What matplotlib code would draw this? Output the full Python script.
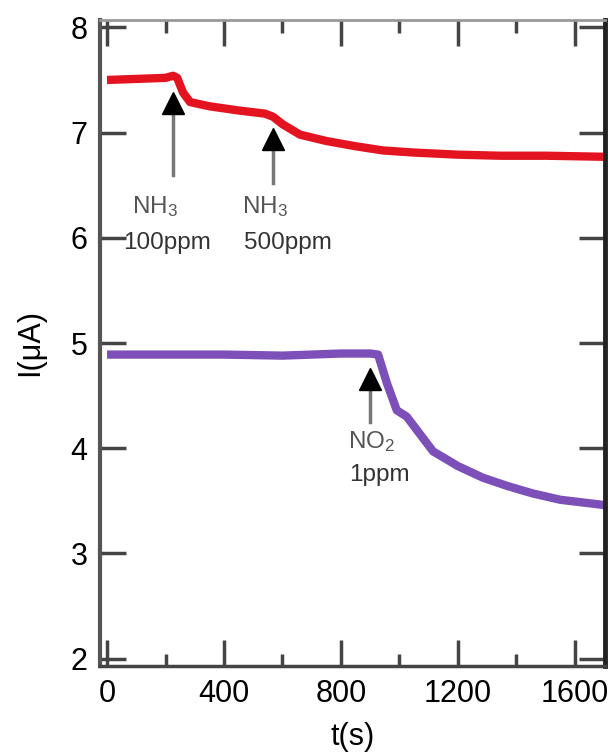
import numpy as np
import matplotlib.pyplot as plt
from matplotlib.ticker import MultipleLocator

plt.rcParams['font.family'] = ['Liberation Sans', 'DejaVu Sans']
plt.rcParams['mathtext.default'] = 'regular'

# NH3 response (red)
t_nh3 = [0, 100, 200, 226, 240, 260, 284, 350, 450, 540, 568, 600, 660,
         750, 850, 944, 1050, 1200, 1344, 1500, 1700]
i_nh3 = [7.50, 7.51, 7.52, 7.54, 7.52, 7.38, 7.29, 7.25, 7.21, 7.18, 7.15,
         7.08, 6.98, 6.92, 6.87, 6.83, 6.81, 6.79, 6.78, 6.78, 6.77]

# NO2 response (purple)
t_no2 = [0, 200, 400, 600, 700, 800, 900, 927, 957, 991, 1025, 1115, 1200,
         1285, 1370, 1456, 1550, 1700]
i_no2 = [4.89, 4.89, 4.89, 4.88, 4.89, 4.90, 4.90, 4.89, 4.62, 4.36, 4.30,
         3.97, 3.83, 3.72, 3.64, 3.57, 3.51, 3.46]

# gas injection markers
arrow_t = [226, 568, 899]
arrow_head = [7.28, 6.94, 4.66]
arrow_tail = [6.60, 6.52, 4.25]
gas_names = ['NH$_{3}$', 'NH$_{3}$', 'NO$_{2}$']
gas_conc = ['100ppm', '500ppm', '1ppm']
name_xy = [(164, 6.30), (540, 6.30), (906, 4.06)]
conc_xy = [(205, 5.95), (619, 5.95), (933, 3.75)]

fig = plt.figure(figsize=(6.13, 7.54), dpi=100)
ax = fig.add_axes([100 / 613, 1 - 666 / 754, 505 / 613, 646 / 754])

ax.plot(t_nh3, i_nh3, color='#e3141f', lw=6, solid_capstyle='butt')
ax.plot(t_no2, i_no2, color='#7d4fb8', lw=6, solid_capstyle='butt')

for t, yh, yt in zip(arrow_t, arrow_head, arrow_tail):
    ax.plot([t, t], [yt, yh], color='#777777', lw=2.5)
    ax.plot(t, yh, marker='^', ms=16, color='black', mec='black')

for s, (x, y) in zip(gas_names, name_xy):
    ax.text(x, y, s, ha='center', va='center', fontsize=17.5, color='#555555')
for s, (x, y) in zip(gas_conc, conc_xy):
    ax.text(x, y, s, ha='center', va='center', fontsize=17.5, color='#333333')

ax.set_xlim(-24, 1703)
ax.set_ylim(1.93, 8.07)
ax.xaxis.set_major_locator(MultipleLocator(400))
ax.xaxis.set_minor_locator(MultipleLocator(200))
ax.yaxis.set_major_locator(MultipleLocator(1))

ax.tick_params(which='both', direction='in', top=True, right=True,
               color='#444444', width=2.5, labelsize=22, pad=9)
ax.tick_params(which='major', length=19)
ax.tick_params(which='minor', length=9)

ax.spines['left'].set_color('#555555')
ax.spines['left'].set_linewidth(3)
ax.spines['bottom'].set_color('#444444')
ax.spines['bottom'].set_linewidth(2.5)
ax.spines['right'].set_color('#222222')
ax.spines['right'].set_linewidth(3.5)
ax.spines['top'].set_color('#999999')
ax.spines['top'].set_linewidth(2)

ax.set_xlabel('t(s)', fontsize=22, labelpad=10)
ax.set_ylabel('I(μA)', fontsize=22, labelpad=18)

fig.savefig('out.png', dpi=100)
